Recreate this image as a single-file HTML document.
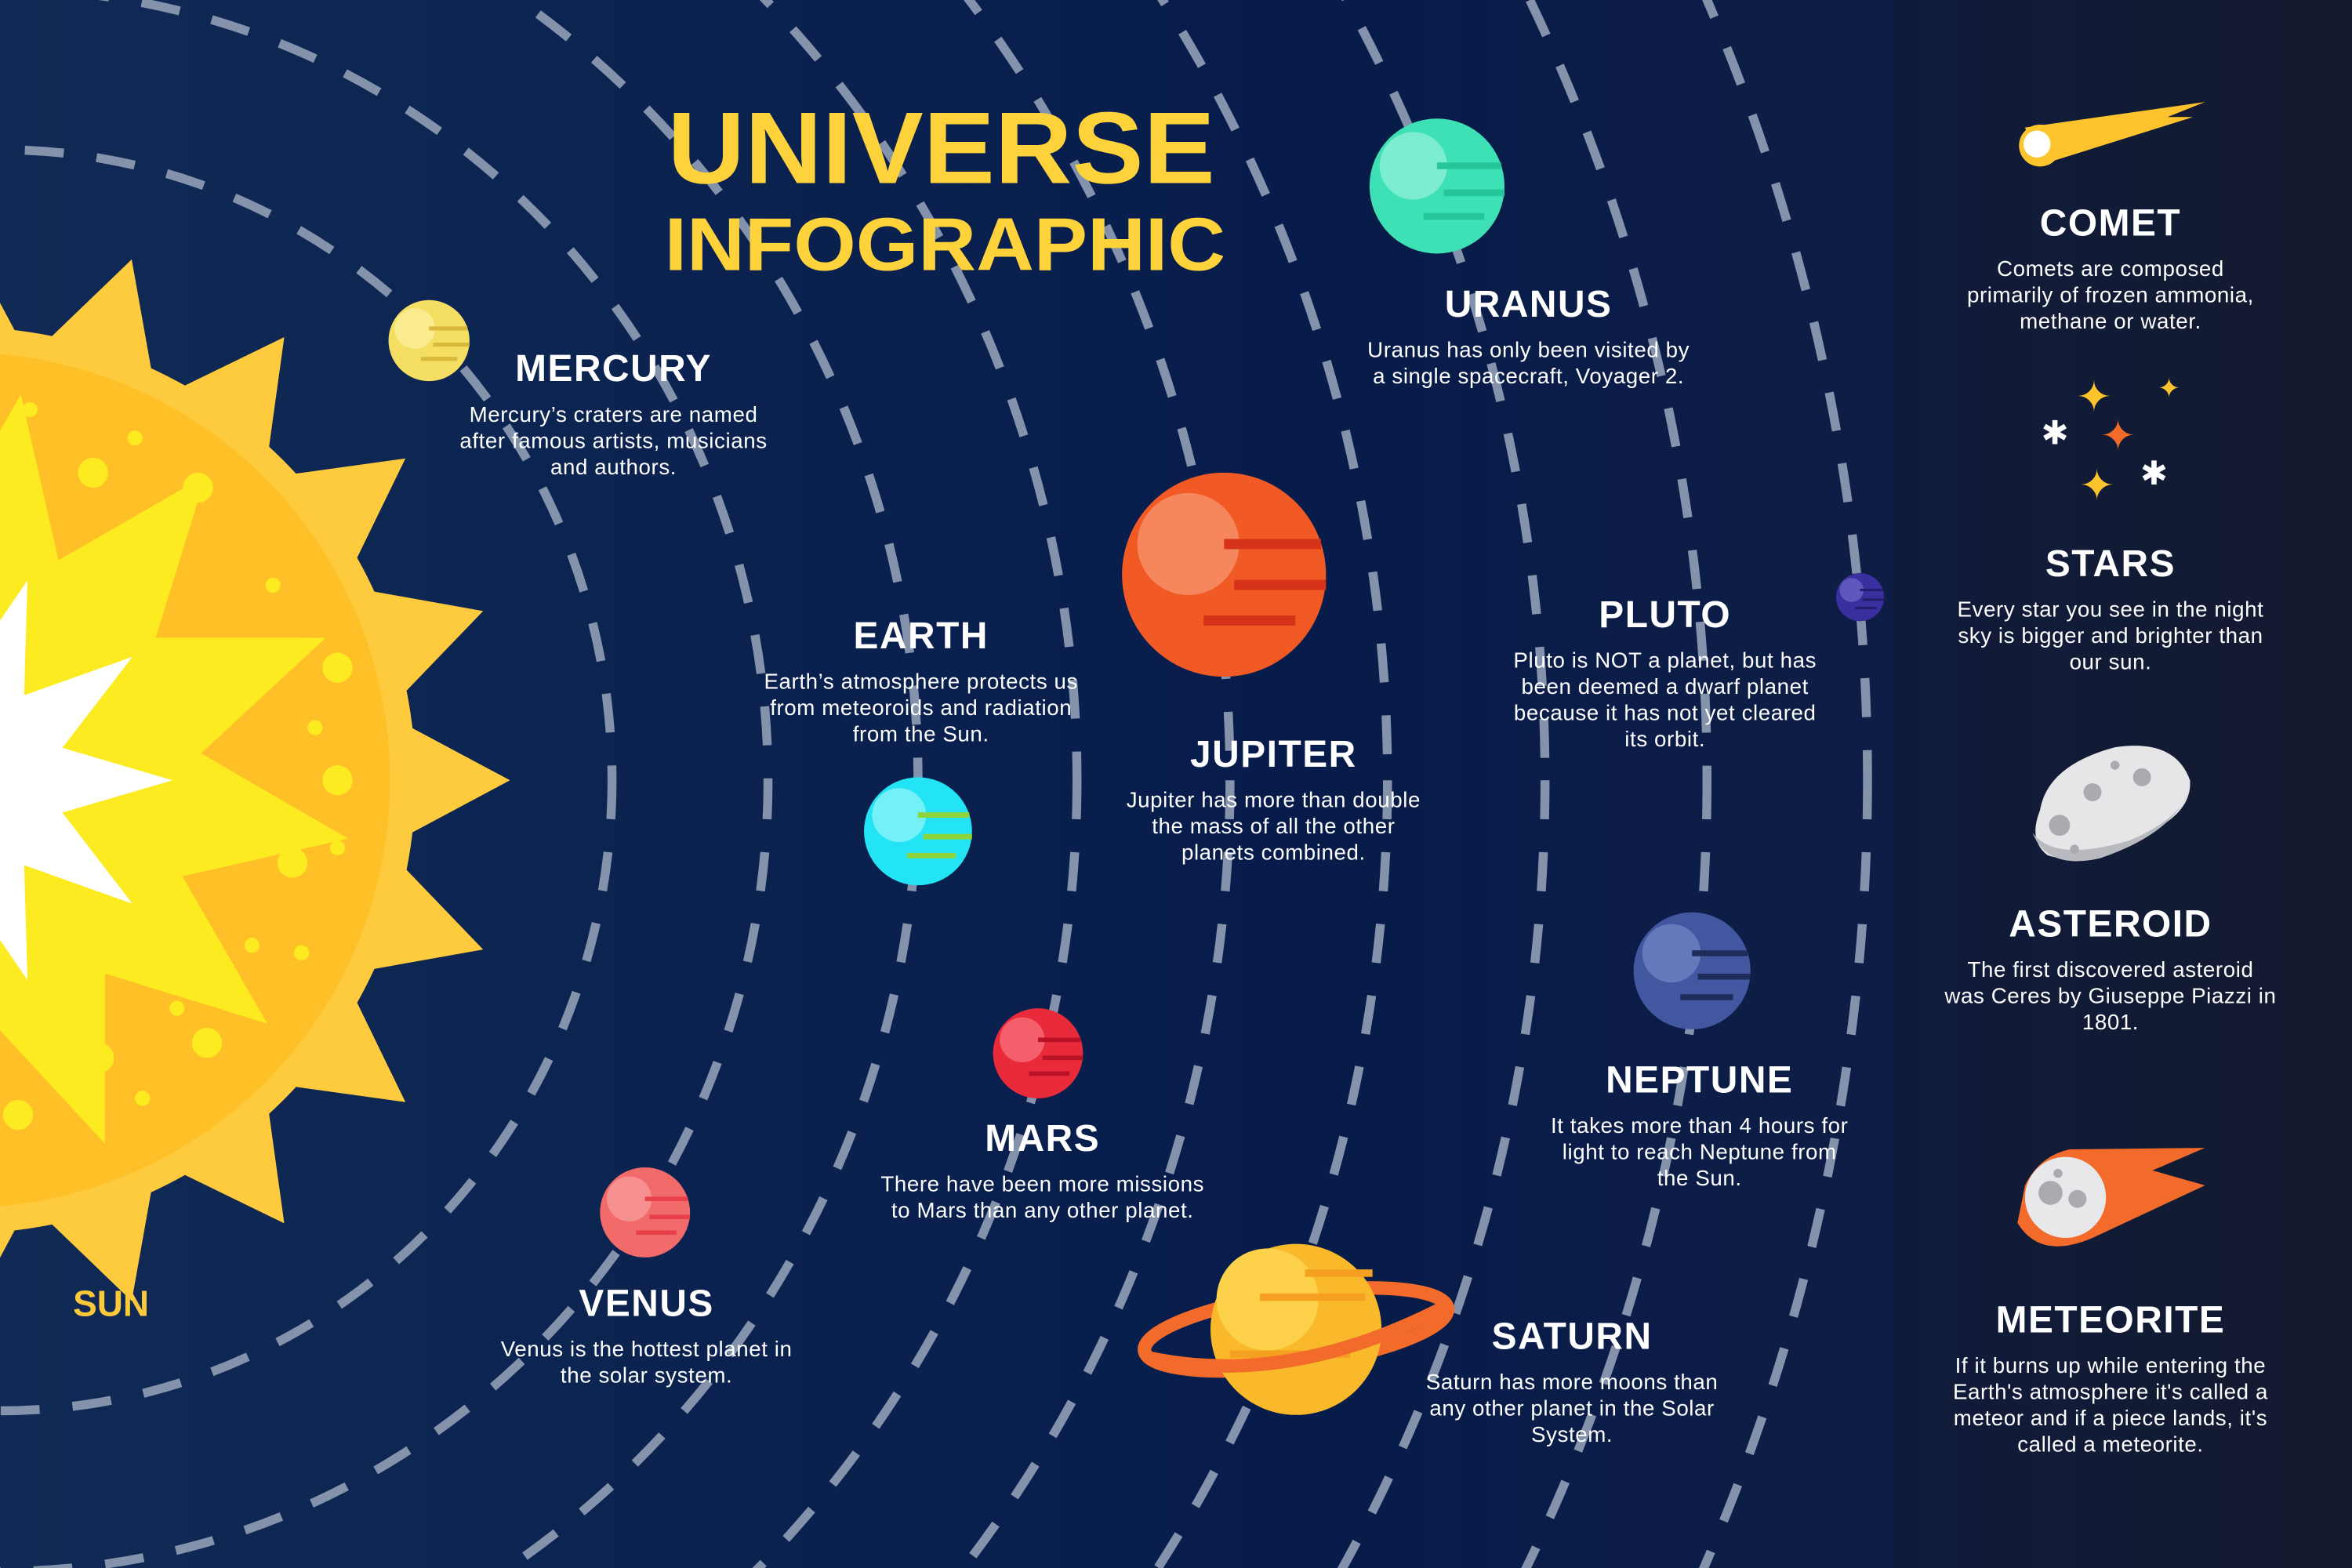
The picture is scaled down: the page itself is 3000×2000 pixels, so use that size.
<!DOCTYPE html>
<html><head><meta charset="utf-8"><style>
html,body{margin:0;padding:0;background:#0b2149;width:3000px;height:2000px;overflow:hidden}
svg{display:block}
text{font-family:"Liberation Sans",sans-serif;fill:#fff}
.h{font-weight:bold;font-size:25px;text-anchor:middle;letter-spacing:0.8px}
.b{font-size:14.5px;text-anchor:middle;letter-spacing:0.3px}
</style></head><body>
<svg id="s" width="3000" height="2000" viewBox="0 0 1568 1045" preserveAspectRatio="none" xmlns="http://www.w3.org/2000/svg">
<defs>
<linearGradient id="bg" x1="0" x2="1" y1="0" y2="0">
<stop offset="0" stop-color="#102a55"/><stop offset="0.55" stop-color="#071c4b"/><stop offset="0.8" stop-color="#0e1d45"/><stop offset="1" stop-color="#151b2e"/>
</linearGradient>
<clipPath id="frame"><rect width="1568" height="1045"/></clipPath>
</defs>
<g clip-path="url(#frame)">
<rect width="1568" height="1045" fill="url(#bg)"/>
<rect x="1262" y="0" width="306" height="1045" fill="#141b31" opacity="0.45"/>
<g id="orbits" fill="none" stroke="#8493ab" stroke-width="6" stroke-dasharray="26 22"></g>

<g>
<g id="sunspikes" fill="#fecb3e"></g>
<circle cx="-25" cy="520" r="302" fill="#fecb3e"/>
<circle cx="-25" cy="520" r="285" fill="#fec026"/>
<g id="sunstar" fill="#fdeb22"></g>
<g id="sunwhite" fill="#ffffff"></g>
<g fill="#fdeb22">
<circle cx="20" cy="273" r="5"/><circle cx="62" cy="315" r="10"/><circle cx="132" cy="325" r="10"/><circle cx="90" cy="292" r="5"/><circle cx="118" cy="348" r="5"/>
<circle cx="182" cy="390" r="5"/><circle cx="225" cy="445" r="10"/><circle cx="225" cy="520" r="10"/><circle cx="195" cy="575" r="10"/><circle cx="225" cy="565" r="5"/>
<circle cx="168" cy="630" r="5"/><circle cx="201" cy="635" r="5"/><circle cx="138" cy="695" r="10"/><circle cx="118" cy="672" r="5"/><circle cx="66" cy="705" r="10"/><circle cx="12" cy="743" r="10"/><circle cx="56" cy="738" r="5"/><circle cx="95" cy="732" r="5"/><circle cx="210" cy="485" r="5"/>
</g>
<text x="74" y="877" style="font-weight:bold;font-size:24px;fill:#fcc93a;text-anchor:middle">SUN</text>
</g>

<text x="445" y="122" textLength="365" lengthAdjust="spacingAndGlyphs" style="font-weight:bold;font-size:68px;fill:#fdd23a">UNIVERSE</text>
<text x="443" y="180" textLength="374" lengthAdjust="spacingAndGlyphs" style="font-weight:bold;font-size:50px;fill:#fdd23a">INFOGRAPHIC</text>

<g id="planets"></g>

<g>
<ellipse cx="864" cy="886" rx="102" ry="24" transform="rotate(-8 864 886)" fill="none" stroke="#f26b2b" stroke-width="9"/>
<circle cx="864" cy="886" r="57" fill="#f9b92a"/>
<circle cx="845" cy="866" r="34" fill="#fdd24a"/>
<rect x="840" y="862" width="70" height="5" fill="#f5a020"/><rect x="820" y="900" width="80" height="5" fill="#f5a020"/><rect x="870" y="846" width="45" height="5" fill="#f5a020"/>
<path d="M766 905 Q860 925 965 870" fill="none" stroke="#f26b2b" stroke-width="9"/>
</g>

<g id="labels"></g>

<g>
<path d="M1350 85 L1470 68 L1445 78 L1462 78 L1360 110 Z" fill="#fdc42d"/>
<circle cx="1360" cy="97" r="14" fill="#fdc42d"/><circle cx="1358" cy="96" r="9" fill="#fff"/>
</g>
<g>
<text x="1396" y="274" style="fill:#fdc42d;font-size:28px;text-anchor:middle">✦</text>
<text x="1446" y="265" style="fill:#fdc42d;font-size:18px;text-anchor:middle">✦</text>
<text x="1412" y="300" style="fill:#f26b2b;font-size:28px;text-anchor:middle">✦</text>
<text x="1398" y="333" style="fill:#fdc42d;font-size:28px;text-anchor:middle">✦</text>
<text x="1370" y="296" style="fill:#fff;font-size:22px;text-anchor:middle">✱</text>
<text x="1436" y="323" style="fill:#fff;font-size:22px;text-anchor:middle">✱</text>
</g>
<g>
<path d="M1360 540 Q1365 510 1410 498 Q1450 492 1460 520 Q1462 545 1420 560 Q1385 577 1365 570 Q1352 560 1360 540 Z" fill="#e6e6e8"/>
<path d="M1355 555 Q1370 575 1420 560 Q1455 545 1460 525 Q1450 555 1400 572 Q1365 580 1355 555Z" fill="#b8bac0"/>
<circle cx="1373" cy="550" r="7" fill="#a9abb1"/><circle cx="1395" cy="528" r="6" fill="#a9abb1"/><circle cx="1428" cy="518" r="6" fill="#a9abb1"/><circle cx="1410" cy="510" r="3" fill="#a9abb1"/><circle cx="1383" cy="566" r="3" fill="#a9abb1"/>
</g>
<g>
<path d="M1350 790 Q1360 770 1380 766 L1470 765 L1435 780 L1470 790 L1395 825 Q1360 840 1345 815 Z" fill="#f26b2b"/>
<circle cx="1377" cy="798" r="27" fill="#e8e8ea"/>
<circle cx="1367" cy="795" r="8" fill="#a9abb1"/><circle cx="1385" cy="799" r="6" fill="#a9abb1"/><circle cx="1372" cy="782" r="3" fill="#a9abb1"/>
</g>
</g>

<script>
var NS="http://www.w3.org/2000/svg";
function mk(tag,attrs,parent){var e=document.createElementNS(NS,tag);for(var k in attrs)e.setAttribute(k,attrs[k]);parent.appendChild(e);return e;}
var orbitRadii=[408,512,612,718,820,925,1030,1138,1245];
var og=document.getElementById('orbits');
orbitRadii.forEach(function(r,i){
 var c=mk('ellipse',{cx:0,cy:520,rx:r,ry:r*1.03},og);
 
 
});
function star(g,n,r1,r2,cx,cy,rot){var p=[];for(var i=0;i<2*n;i++){var a=rot+Math.PI*i/n;var r=i%2?r2:r1;p.push((cx+r*Math.cos(a)).toFixed(1)+','+(cy+r*Math.sin(a)).toFixed(1));}mk('polygon',{points:p.join(' ')},g);}
star(document.getElementById('sunspikes'),20,365,285,-25,520,0.0);
star(document.getElementById('sunstar'),12,260,160,-25,520,0.15);
star(document.getElementById('sunwhite'),10,140,70,-25,520,0.0);
var planetNames=['mercury','uranus','jupiter','pluto','earth','neptune','mars','venus'];
var planetX=[286,958,816,1240,612,1128,692,430];
var planetY=[227,124,383,398,554,647,702,808];
var planetR=[27,45,68,16,36,39,30,30];
var planetColor=['#f5df62','#3ee0b6','#f15a24','#3a2f9e','#22e4f4','#42579f','#e82a3b','#f26b6b'];
var planetLight=['#fbee9a','#8cf0d6','#f8926a','#6a62c4','#8af2fa','#6d81c2','#f76b78','#f79a9a'];
var planetStripe=['#d8b93a','#25c79a','#d7321a','#241d6e','#8fd43a','#1e2c5a','#b81326','#e8414a'];
var pg=document.getElementById('planets');
planetNames.forEach(function(n,i){
 var g=mk('g',{},pg);
 
 
 var x=planetX[i],y=planetY[i],r=planetR[i];
 mk('circle',{cx:x,cy:y,r:r,fill:planetColor[i]},g);
 mk('circle',{cx:x-r*0.35,cy:y-r*0.3,r:r*0.5,fill:planetLight[i],opacity:0.8},g);
 mk('rect',{x:x,y:y-r*0.35,width:r*0.95,height:r*0.1,fill:planetStripe[i]},g);
 mk('rect',{x:x+r*0.1,y:y+r*0.05,width:r*0.9,height:r*0.1,fill:planetStripe[i]},g);
 mk('rect',{x:x-r*0.2,y:y+r*0.4,width:r*0.9,height:r*0.1,fill:planetStripe[i]},g);
});
var labelNames=['mercury','uranus','earth','pluto','jupiter','neptune','mars','venus','saturn','comet','stars','asteroid','meteorite'];
var labelTitles=['MERCURY','URANUS','EARTH','PLUTO','JUPITER','NEPTUNE','MARS','VENUS','SATURN','COMET','STARS','ASTEROID','METEORITE'];
var labelX=[409,1019,614,1110,849,1133,695,431,1048,1407,1407,1407,1407];
var labelY=[254,211,432,418,511,728,767,877,899,157,384,624,888];
var labelLines=[
 ["Mercury’s craters are named","after famous artists, musicians","and authors."],
 ["Uranus has only been visited by","a single spacecraft, Voyager 2."],
 ["Earth’s atmosphere protects us","from meteoroids and radiation","from the Sun."],
 ["Pluto is NOT a planet, but has","been deemed a dwarf planet","because it has not yet cleared","its orbit."],
 ["Jupiter has more than double","the mass of all the other","planets combined."],
 ["It takes more than 4 hours for","light to reach Neptune from","the Sun."],
 ["There have been more missions","to Mars than any other planet."],
 ["Venus is the hottest planet in","the solar system."],
 ["Saturn has more moons than","any other planet in the Solar","System."],
 ["Comets are composed","primarily of frozen ammonia,","methane or water."],
 ["Every star you see in the night","sky is bigger and brighter than","our sun."],
 ["The first discovered asteroid","was Ceres by Giuseppe Piazzi in","1801."],
 ["If it burns up while entering the","Earth's atmosphere it's called a","meteor and if a piece lands, it's","called a meteorite."]];
var lg=document.getElementById('labels');
labelNames.forEach(function(n,i){
 var t=mk('text',{x:labelX[i],y:labelY[i],'class':'h'},lg);
 t.textContent=labelTitles[i];
 
 
 labelLines[i].forEach(function(s,j){
  var d=mk('text',{x:labelX[i],y:labelY[i]+27+j*17.5,'class':'b'},lg);
  d.textContent=s;
  
  
 });
});
</script>
</svg>
</body></html>
